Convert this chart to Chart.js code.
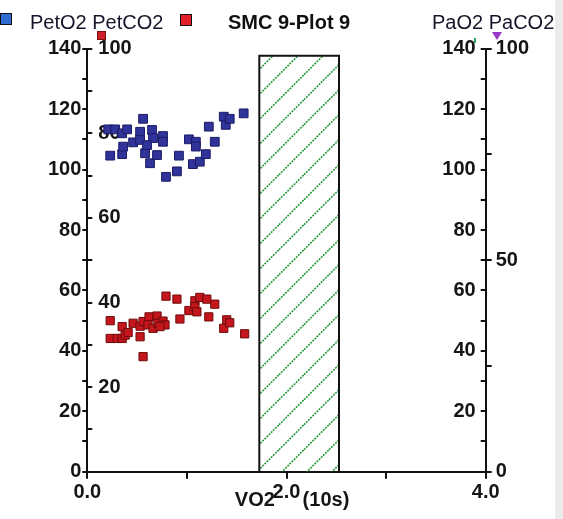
<!DOCTYPE html>
<html>
<head>
<meta charset="utf-8">
<script src="https://cdn.jsdelivr.net/npm/chart.js@4.4.1/dist/chart.umd.min.js"></script>
<style>
  html, body { margin: 0; padding: 0; background: #ececec; }
  #wrap { position: relative; width: 555px; height: 519px; background: #fff; overflow: hidden; }
  #chart { position: absolute; left: 0; top: 0; }
  .hdr { position: absolute; top: 10px; font: 20px "Liberation Sans", Arial, sans-serif; line-height: 24px; color: #15152a; white-space: nowrap; }
  .box { position: absolute; width: 10px; height: 10px; border: 1.5px solid #111; }
  .glyph { position: absolute; }
</style>
</head>
<body>
<div id="wrap">
  <canvas id="chart" width="555" height="519"></canvas>
  <div class="box" style="left:0px;top:13px;background:#2f6bd0"></div>
  <div class="hdr" style="left:30px">PetO2 PetCO2</div>
  <div class="box" style="left:180px;top:14px;background:#e3202a"></div>
  <div class="hdr" style="left:228px;font-weight:bold;color:#111">SMC 9-Plot 9</div>
  <div class="hdr" style="left:432px">PaO2 PaCO2</div>
  <!-- small legend glyphs under the header -->
  <div class="glyph" style="left:97px;top:31px;width:7px;height:7px;background:#d0202a;border:1px solid #7a1010"></div>
  <div class="glyph" style="left:474px;top:38px;width:2px;height:5px;background:#2a9d5a"></div>
  <div class="glyph" style="left:492px;top:32px;width:0;height:0;border-left:5px solid transparent;border-right:5px solid transparent;border-top:8px solid #9a36c8"></div>
</div>
<script>
// -------------------------
// Data
// -------------------------
const petO2X = [0.23, 0.35, 0.36, 0.21, 0.28, 0.35, 0.40, 0.46, 0.53, 0.56, 0.53, 0.58, 0.65, 0.66, 0.63, 0.70, 0.60,
  0.76, 0.76, 0.79, 0.90, 0.92, 1.02, 1.09, 1.09, 1.06, 1.13, 1.19, 1.22, 1.28, 1.37, 1.39, 1.43, 1.57];
const petO2Y = [104.6, 105.1, 107.6, 113.3, 113.3, 112.0, 113.3, 109.0, 112.5, 116.8, 109.8, 105.4, 113.1, 110.4, 102.1, 104.8, 108.1,
  111.1, 109.2, 97.6, 99.4, 104.6, 110.0, 109.2, 107.6, 101.8, 102.6, 105.1, 114.2, 109.2, 117.5, 114.8, 116.8, 118.6];

const petCO2X = [0.23, 0.23, 0.30, 0.35, 0.35, 0.38, 0.41, 0.46, 0.53, 0.53, 0.56, 0.62, 0.70, 0.61, 0.66, 0.71, 0.76, 0.78,
  0.73, 0.56, 0.79, 0.90, 0.93, 1.02, 1.08, 1.08, 1.10, 1.13, 1.20, 1.22, 1.28, 1.40, 1.37, 1.43, 1.58];
const petCO2Y = [35.7, 31.5, 31.5, 31.5, 34.3, 32.3, 32.9, 35.1, 34.4, 31.9, 35.5, 36.6, 36.8, 34.7, 33.9, 35.1, 35.6, 34.7,
  34.3, 27.2, 41.5, 40.8, 36.1, 38.1, 40.4, 39.0, 37.8, 41.2, 40.8, 36.6, 39.6, 35.9, 33.9, 35.2, 32.6];

// hatched band (x in VO2 units, y on the 0-140 scale)
const bandX = [1.727, 1.727, 2.527, 2.527];
const bandY = [0, 137.7, 137.7, 0];

// tick labels
const xTickLabels = { 0: "0.0", 2: "2.0", 4: "4.0" };
const leftLabels = [0, 20, 40, 60, 80, 100, 120, 140];
const leftInnerLabels = [20, 40, 60, 80, 100];
const rightLabels = [20, 40, 60, 80, 100, 120, 140];
const rightOuterLabels = [0, 50, 100];

const toPoints = (xs, ys) => xs.map((x, i) => ({ x: x, y: ys[i] }));

Chart.defaults.font.family = "'Liberation Sans', Arial, sans-serif";
Chart.defaults.color = "#151515";

const ctx = document.getElementById("chart").getContext("2d");

function hatchPattern() {
  const c = document.createElement("canvas");
  c.width = 25; c.height = 25;
  const g = c.getContext("2d");
  g.strokeStyle = "#25983a";
  g.lineWidth = 1.6;
  g.setLineDash([2, 1]);
  for (const k of [-1, 0, 1, 2]) {
    const o = 25 * k + 3.7;
    g.beginPath();
    g.moveTo(o, 0);
    g.lineTo(o - 25, 25);
    g.stroke();
  }
  return ctx.createPattern(c, "repeat");
}

const tickFont = { size: 20, weight: "bold" };
const axisGrid = (len) => ({ drawOnChartArea: false, drawTicks: true, tickLength: len, color: "#111", lineWidth: 2 });
const labelIf = (list) => (v) => (list.includes(v) ? String(v) : "");

new Chart(ctx, {
  type: "scatter",
  data: {
    datasets: [
      {
        label: "PetO2",
        data: toPoints(petO2X, petO2Y),
        yAxisID: "y",
        pointStyle: "rect",
        pointRadius: 6.2,
        backgroundColor: "#303399",
        borderColor: "#1c1c66",
        borderWidth: 1,
        order: 1
      },
      {
        label: "PetCO2",
        data: toPoints(petCO2X, petCO2Y),
        yAxisID: "y2",
        pointStyle: "rect",
        pointRadius: 5.8,
        backgroundColor: "#c4161c",
        borderColor: "#6e0b0b",
        borderWidth: 1,
        order: 1
      },
      {
        type: "line",
        label: "band",
        data: toPoints(bandX, bandY),
        yAxisID: "y",
        fill: "origin",
        backgroundColor: hatchPattern(),
        borderColor: "#111",
        borderWidth: 2,
        pointRadius: 0,
        tension: 0,
        order: 2
      }
    ]
  },
  options: {
    responsive: false,
    animation: false,
    layout: { padding: { left: 0, top: 48.7, right: 7.3, bottom: 0 } },
    plugins: { legend: { display: false }, tooltip: { enabled: false } },
    scales: {
      x: {
        type: "linear",
        min: 0, max: 4,
        grid: axisGrid(7),
        border: { display: true, color: "#111", width: 2 },
        ticks: { stepSize: 1, autoSkip: false, maxRotation: 0, padding: 2, font: tickFont,
          callback: (v) => xTickLabels[v] ?? "" },
        title: { display: true, text: "  VO2     (10s)", font: { size: 20, weight: "bold" }, padding: { top: 0, bottom: 7 } },
        afterFit: (s) => { s.height = 47.3; }
      },
      y: {
        position: "left",
        weight: 1,
        min: 0, max: 140,
        grid: axisGrid(5),
        border: { display: true, color: "#111", width: 2 },
        ticks: { stepSize: 10, autoSkip: false, padding: 1, font: tickFont, callback: labelIf(leftLabels) },
        afterFit: (s) => { s.width = 87.3; }
      },
      y2: {
        position: "left",
        weight: 0,
        min: 0, max: 100,
        grid: axisGrid(-5),
        border: { display: false },
        ticks: { stepSize: 10, autoSkip: false, mirror: true, padding: 11, font: tickFont, callback: labelIf(leftInnerLabels) },
        afterFit: (s) => { s.width = 0; }
      },
      y3: {
        position: "right",
        weight: 0,
        min: 0, max: 140,
        grid: axisGrid(-5),
        border: { display: true, color: "#111", width: 2 },
        ticks: { stepSize: 10, autoSkip: false, mirror: true, padding: -10, font: tickFont, callback: labelIf(rightLabels) },
        afterFit: (s) => { s.width = 0; }
      },
      y4: {
        position: "right",
        weight: 1,
        min: 0, max: 100,
        grid: axisGrid(6),
        border: { display: false },
        ticks: { stepSize: 25, autoSkip: false, padding: 4, font: tickFont, callback: labelIf(rightOuterLabels) },
        afterFit: (s) => { s.width = 62; }
      }
    }
  }
});
</script>
</body>
</html>
